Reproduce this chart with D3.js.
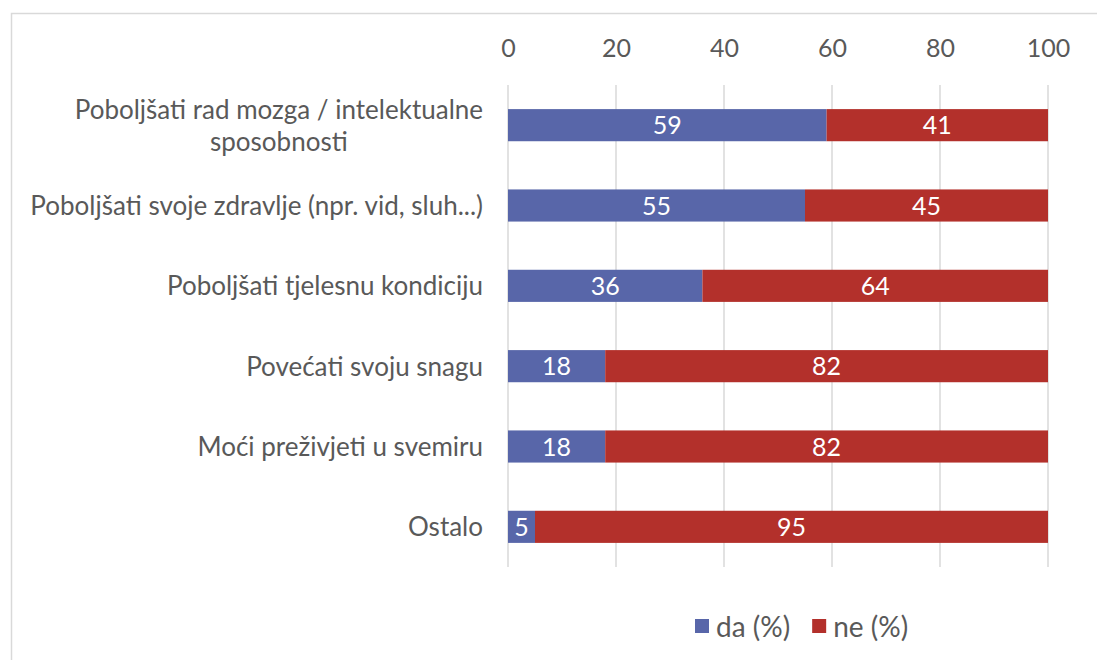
<!DOCTYPE html>
<html>
<head>
<meta charset="utf-8">
<script src="https://cdn.jsdelivr.net/npm/d3@7"></script>
<style>
  html, body { margin: 0; padding: 0; background: #fff; }
  svg { display: block; font-family: Lato, "Open Sans", sans-serif; }
</style>
</head>
<body>
<svg id="chart" width="1097" height="660"></svg>
<script>
const categories = [
  ["Poboljšati rad mozga / intelektualne", "sposobnosti"],
  ["Poboljšati svoje zdravlje (npr. vid, sluh...)"],
  ["Poboljšati tjelesnu kondiciju"],
  ["Povećati svoju snagu"],
  ["Moći preživjeti u svemiru"],
  ["Ostalo"]
];
const daValues = [59, 55, 36, 18, 18, 5];
const neValues = [41, 45, 64, 82, 82, 95];
const tickValues = [0, 20, 40, 60, 80, 100];
const seriesNames = ["da (%)", "ne (%)"];
const seriesColors = ["#5866a9", "#b3302b"];

const svg = d3.select("#chart");
const textColor = "#595959";
const gridColor = "#d9d9d9";

// frame (only top and left show in the picture)
svg.append("rect")
  .attr("x", 11.5).attr("y", 13.5)
  .attr("width", 1100).attr("height", 700)
  .attr("fill", "none")
  .attr("stroke", gridColor)
  .attr("stroke-width", 1.5);

const x = d3.scaleLinear().domain([0, 100]).range([508, 1048]);
const keys = categories.map((c, i) => i);
const y = d3.scaleBand().domain(keys).range([85, 567]).paddingInner(0.6).paddingOuter(0.3);

// gridlines
svg.append("g")
  .selectAll("line")
  .data(tickValues)
  .join("line")
  .attr("x1", d => x(d)).attr("x2", d => x(d))
  .attr("y1", 85).attr("y2", 567)
  .attr("stroke", gridColor)
  .attr("stroke-width", 1.5);

// top axis labels
const axis = svg.append("g")
  .attr("transform", "translate(0,57)")
  .call(d3.axisTop(x).tickValues(tickValues).tickSize(0).tickPadding(0));
axis.select(".domain").remove();
axis.selectAll("text")
  .attr("fill", textColor)
  .style("font-size", "25px")
  .style("font-family", "Lato, sans-serif");

// stacked bars
const rows = keys.map(i => ({ i, da: daValues[i], ne: neValues[i] }));
const stacked = d3.stack().keys(["da", "ne"])(rows);

stacked.forEach((layer, li) => {
  const g = svg.append("g");
  g.selectAll("rect")
    .data(layer)
    .join("rect")
    .attr("x", d => x(d[0]))
    .attr("y", d => y(d.data.i))
    .attr("width", d => x(d[1]) - x(d[0]))
    .attr("height", y.bandwidth())
    .attr("fill", seriesColors[li]);
  g.selectAll("text")
    .data(layer)
    .join("text")
    .attr("x", d => (x(d[0]) + x(d[1])) / 2)
    .attr("y", d => y(d.data.i) + y.bandwidth() / 2)
    .attr("dy", "0.36em")
    .attr("text-anchor", "middle")
    .attr("fill", "#fff")
    .style("font-size", "25px")
    .text(d => d[1] - d[0]);
});

// category labels, right aligned block, lines centered on each other
const labelRight = 483;
const lineGap = 32;
categories.forEach((lines, i) => {
  const cy = y(i) + y.bandwidth() / 2;
  const g = svg.append("g");
  const texts = lines.map((ln, k) => g.append("text")
    .attr("y", cy + (k - (lines.length - 1) / 2) * lineGap)
    .attr("dy", "0.36em")
    .attr("fill", textColor)
    .style("font-size", "26px")
    .text(ln));
  const widths = texts.map(t => t.node().getComputedTextLength());
  const blockW = d3.max(widths);
  texts.forEach(t => t.attr("x", labelRight - blockW / 2).attr("text-anchor", "middle"));
});

// legend
const legend = svg.append("g");
let lx = 695;
seriesNames.forEach((name, i) => {
  legend.append("rect")
    .attr("x", lx).attr("y", 619)
    .attr("width", 14).attr("height", 14)
    .attr("fill", seriesColors[i]);
  const t = legend.append("text")
    .attr("x", lx + 21).attr("y", 627)
    .attr("dy", "0.36em")
    .attr("fill", textColor)
    .style("font-size", "28px")
    .text(name);
  lx += 21 + t.node().getComputedTextLength() + 22;
});
</script>
</body>
</html>
